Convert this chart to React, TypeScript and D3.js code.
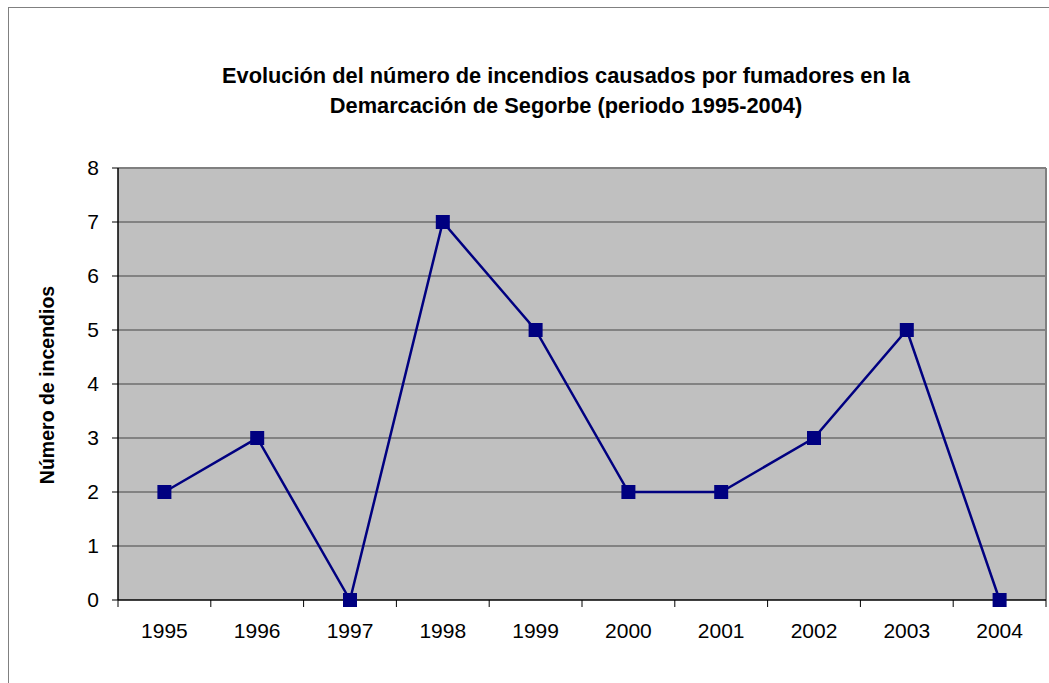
import React from "react";
import * as d3 from "d3";

const years = ["1995", "1996", "1997", "1998", "1999", "2000", "2001", "2002", "2003", "2004"];
const fires = [2, 3, 0, 7, 5, 2, 2, 3, 5, 0];
const yTicks = [0, 1, 2, 3, 4, 5, 6, 7, 8];
const titleLines = [
  "Evolución del número de incendios causados por fumadores en la",
  "Demarcación de Segorbe (periodo 1995-2004)",
];
const yTitle = "Número de incendios";

export default function App() {
  const W = 1049, H = 683;
  const left = 118, right = 1046, top = 168, bottom = 600;
  const x = d3.scaleBand<string>().domain(years).range([left, right]).padding(0);
  const y = d3.scaleLinear().domain([0, 8]).range([bottom, top]);
  const line = d3
    .line<number>()
    .x((_, i) => (x(years[i]) as number) + x.bandwidth() / 2)
    .y((d) => y(d));
  const font = "'Liberation Sans', Arial, sans-serif";
  const ms = 14;
  const fs = 21;
  return (
    <svg
      width={W}
      height={H}
      style={{ position: "absolute", left: 0, top: 0, display: "block" }}
      fontFamily={font}
    >
      <rect x={0} y={0} width={W} height={H} fill="#fff" />
      <rect x={8.5} y={7.5} width={W + 20} height={H + 20} fill="none" stroke="#808080" strokeWidth={1} />
      {titleLines.map((t, i) => (
        <text key={i} x={566} y={83 + i * 30} textAnchor="middle" fontSize={21.8} fontWeight="bold" fill="#000">
          {t}
        </text>
      ))}
      <rect x={left} y={top} width={right - left} height={bottom - top} fill="#C0C0C0" />
      {yTicks.map((t) => (
        <g key={t}>
          {t > 0 && (
            <line x1={left} x2={right} y1={y(t)} y2={y(t)} stroke="#6e6e6e" strokeWidth={1.5} />
          )}
          <line x1={left - 6} x2={left} y1={y(t)} y2={y(t)} stroke="#000" strokeWidth={1} />
          <text x={99} y={y(t)} dy="0.35em" textAnchor="end" fontSize={fs} fill="#000">
            {t}
          </text>
        </g>
      ))}
      <line x1={right} x2={right} y1={top} y2={bottom} stroke="#808080" strokeWidth={2} />
      <line x1={left} x2={right} y1={top} y2={top} stroke="#808080" strokeWidth={2} />
      <line x1={left} x2={left} y1={top} y2={bottom} stroke="#000" strokeWidth={1.5} />
      <line x1={left} x2={right} y1={bottom} y2={bottom} stroke="#000" strokeWidth={1.5} />
      {years.map((yr) => (
        <g key={yr}>
          <line
            x1={x(yr) as number}
            x2={x(yr) as number}
            y1={bottom}
            y2={bottom + 7}
            stroke="#000"
            strokeWidth={1}
          />
          <text
            x={(x(yr) as number) + x.bandwidth() / 2}
            y={631}
            dy="0.35em"
            textAnchor="middle"
            fontSize={fs}
            fill="#000"
          >
            {yr}
          </text>
        </g>
      ))}
      <line x1={right} x2={right} y1={bottom} y2={bottom + 7} stroke="#000" strokeWidth={1} />
      <path d={line(fires) || ""} fill="none" stroke="#000080" strokeWidth={2.5} />
      {fires.map((v, i) => (
        <rect
          key={i}
          x={(x(years[i]) as number) + x.bandwidth() / 2 - ms / 2}
          y={y(v) - ms / 2}
          width={ms}
          height={ms}
          fill="#000080"
        />
      ))}
      <text
        transform={`translate(54,385) rotate(-90)`}
        textAnchor="middle"
        fontSize={19.5}
        fontWeight="bold"
        fill="#000"
      >
        {yTitle}
      </text>
    </svg>
  );
}
